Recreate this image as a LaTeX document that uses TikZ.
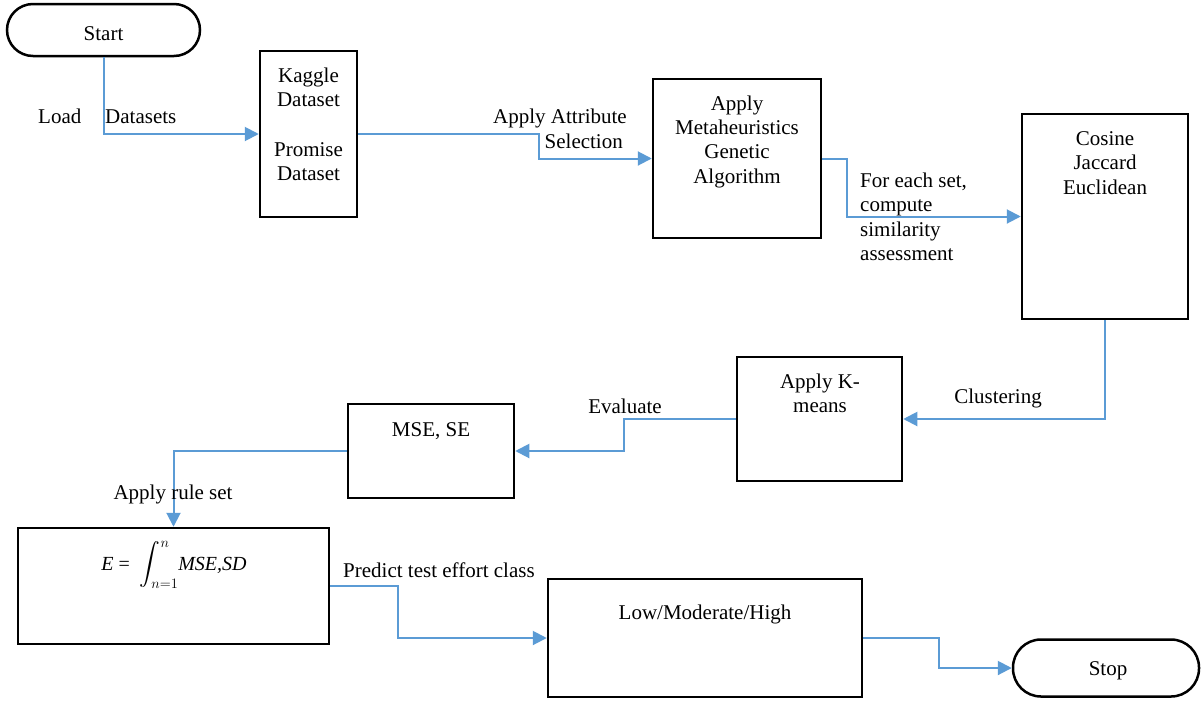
\documentclass[tikz,border=0pt]{standalone}
\usepackage{exscale}
\usepackage{fontspec}
\setmainfont{Liberation Serif}
\usetikzlibrary{arrows.meta}
\definecolor{flowblue}{RGB}{91,155,213}
\begin{document}
\begin{tikzpicture}[x=1pt,y=-1pt,
  every node/.style={font=\fontsize{21}{25}\selectfont},
  box/.style={draw, line width=2.5pt, inner sep=0pt},
  term/.style={draw, line width=2.5pt, inner sep=0pt, rounded corners=#1},
  txt/.style={anchor=base, inner sep=0pt},
  ltxt/.style={anchor=base west, inner sep=0pt},
  flow/.style={draw=flowblue, line width=2pt, -{Triangle[length=14pt,width=14pt]}, rounded corners=0pt},
]
\useasboundingbox (0,0) rectangle (1201,702);
\fill[white] (0,0) rectangle (1201,702);

% terminals
\node[term=26pt, minimum width=193pt, minimum height=52pt] (start) at (103.5,30) {};
\node[term=28pt, minimum width=186pt, minimum height=57pt] (stop) at (1106,668) {};

% boxes
\node[box, minimum width=97pt, minimum height=166pt] (kaggle) at (308.5,134) {};
\node[box, minimum width=168pt, minimum height=159pt] (meta) at (737,158.5) {};
\node[box, minimum width=166pt, minimum height=205pt] (cosine) at (1105,216.5) {};
\node[box, minimum width=165pt, minimum height=124pt] (kmeans) at (819.5,419) {};
\node[box, minimum width=166pt, minimum height=94pt] (mse) at (431,451) {};
\node[box, minimum width=311pt, minimum height=116pt] (formula) at (173.5,586) {};
\node[box, minimum width=314pt, minimum height=118pt] (lmh) at (705,638) {};

% box texts
\node[txt] (tstart) at (103.5,40) {Start};
\node[txt] (tstop) at (1108,675) {Stop};
\node[txt] (tk1) at (308.5,82.7) {Kaggle};
\node[txt] (tk2) at (308.5,106.7) {Dataset};
\node[txt] (tk3) at (308.5,156.7) {Promise};
\node[txt] (tk4) at (308.5,180.5) {Dataset};
\node[txt] (tm1) at (737,110) {Apply};
\node[txt] (tm2) at (737,134) {Metaheuristics};
\node[txt] (tm3) at (737,158.5) {Genetic};
\node[txt] (tm4) at (737,183) {Algorithm};
\node[txt] (tc1) at (1105,145) {Cosine};
\node[txt] (tc2) at (1105,169.5) {Jaccard};
\node[txt] (tc3) at (1105,194) {Euclidean};
\node[txt] (tkm1) at (820,388) {Apply K-};
\node[txt] (tkm2) at (820,412) {means};
\node[txt] (tmse) at (431,436) {MSE, SE};
\node[txt, font=\fontsize{20}{24}\selectfont] (tform) at (174,570) {\textit{E} = \ $\displaystyle\int_{n=1}^{n}$\textit{MSE,SD}};
\node[txt] (tlmh) at (705,619) {Low/Moderate/High};

% connectors
\draw[flow] (start.south) |- (kaggle.west);
\draw[flow] (kaggle.east) -- ++(181,0) |- (meta.west);
\draw[flow] (meta.east) -- ++(25,0) |- (cosine.west);
\draw[flow] (cosine.south) |- (kmeans.east);
\draw[flow] (kmeans.west) -- ++(-112,0) |- (mse.east);
\draw[flow] (mse.west) -| (formula.north);
\draw[flow] (formula.east) -- ++(68,0) |- (lmh.west);
\draw[flow] (lmh.east) -- ++(76,0) |- (stop.west);

% connector labels
\node[ltxt] (lload) at (38,123) {Load};
\node[ltxt] (ldata) at (105,123) {Datasets};
\node[txt, anchor=base east] (lattr1) at (627,123) {Apply Attribute};
\node[txt, anchor=base east] (lattr2) at (623,148) {Selection};
\node[ltxt] (lsim1) at (860,187) {For each set,};
\node[ltxt] (lsim2) at (860,211.5) {compute};
\node[ltxt] (lsim3) at (860,236) {similarity};
\node[ltxt] (lsim4) at (860,260.5) {assessment};
\node[txt] (lclus) at (998,403) {Clustering};
\node[txt] (leval) at (625,413) {Evaluate};
\node[txt] (lrule) at (173,499) {Apply rule set};
\node[ltxt] (lpred) at (343,577) {Predict test effort class};
\end{tikzpicture}
\end{document}
